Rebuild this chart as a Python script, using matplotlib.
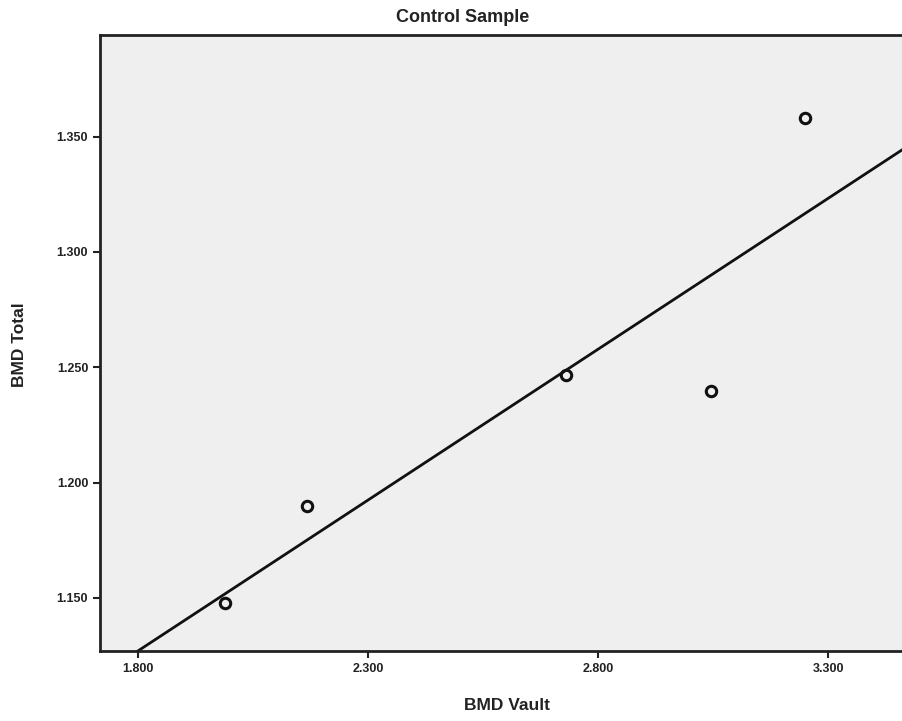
import numpy as np
import matplotlib
matplotlib.use("Agg")
import matplotlib.pyplot as plt

plt.rcParams["font.family"] = ["Liberation Sans", "DejaVu Sans"]

# Values
bmd_vault = [1.989, 2.167, 2.730, 3.046, 3.250]
bmd_total = [1.148, 1.190, 1.2465, 1.2396, 1.358]

x_ticks = [1.8, 2.3, 2.8, 3.3]
y_ticks = [1.15, 1.20, 1.25, 1.30, 1.35]

# Linear fit line through the points
slope, intercept = np.polyfit(bmd_vault, bmd_total, 1)

fig = plt.figure(figsize=(9.03, 7.21), dpi=100)
ax = fig.add_axes([100 / 903, 70 / 721, 820 / 903, 616 / 721])
ax.set_facecolor("#efefef")

xlim = (1.717, 3.50)
ylim = (1.127, 1.394)
line_x = np.array(xlim)
ax.plot(line_x, intercept + slope * line_x, color="#111111", lw=2)

ax.plot(bmd_vault, bmd_total, "o", ms=7.5, mfc="none", mec="#111111", mew=2.2)

ax.set_xlim(*xlim)
ax.set_ylim(*ylim)
ax.set_xticks(x_ticks)
ax.set_yticks(y_ticks)
ax.set_xticklabels([f"{v:.3f}" for v in x_ticks])
ax.set_yticklabels([f"{v:.3f}" for v in y_ticks])
ax.tick_params(direction="out", length=5, width=1.5, labelsize=9,
               colors="#222222")
for lbl in ax.get_xticklabels() + ax.get_yticklabels():
    lbl.set_fontweight("bold")

for s in ax.spines.values():
    s.set_linewidth(2)
    s.set_color("#222222")

fig.text(463 / 903, 1 - 18 / 721, "Control Sample", ha="center", va="center",
         fontsize=13, fontweight="bold", color="#222222")
fig.text(507 / 903, 1 - 705 / 721, "BMD Vault", ha="center", va="center",
         fontsize=12.5, fontweight="bold", color="#222222")
fig.text(20 / 903, 1 - 345 / 721, "BMD Total", ha="center", va="center",
         rotation=90, fontsize=12.5, fontweight="bold", color="#222222")

fig.savefig("out.png", dpi=100)
